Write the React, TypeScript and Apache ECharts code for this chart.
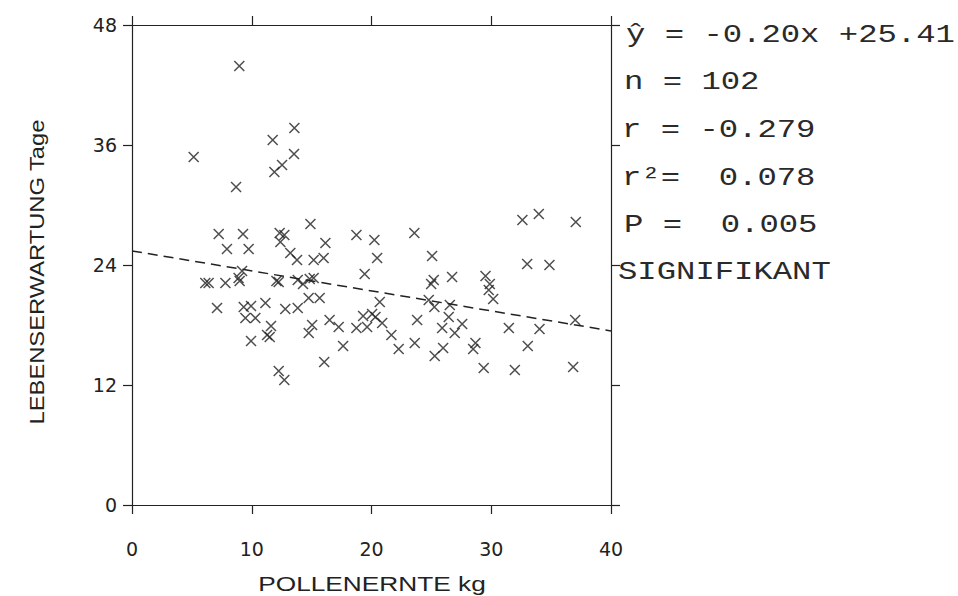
import React, { useEffect, useRef } from "react";
import * as echarts from "echarts";

// Pollenernte (kg) per colony
const pollenKg = [
  8.96, 13.56, 11.75, 5.15, 13.53, 12.53, 11.89, 8.69,
  7.24, 9.27, 12.33, 12.72, 12.39, 14.9, 16.15, 7.93, 9.74, 13.22, 13.78, 15.17, 16.0,
  9.19, 8.9, 8.99, 6.12, 6.4, 7.8, 12.06, 12.25, 13.84, 14.28, 14.84, 15.17,
  7.1, 9.33, 9.94, 11.14, 12.8, 13.84, 14.75, 15.67, 9.47, 10.3, 11.61, 11.28, 11.5,
  9.94, 15.04, 14.76, 16.5, 12.25, 12.72, 16.05,
  18.74, 20.24, 23.58, 20.47, 25.06, 19.43, 25.2, 24.98, 26.73, 20.69, 24.78, 25.25,
  26.54, 17.26, 19.3, 20.05, 20.33, 20.89, 18.74, 19.63, 21.66, 23.81, 26.45, 25.9,
  26.95, 27.57, 17.63, 22.27, 23.61, 25.98, 25.28,
  32.6, 33.97, 37.06, 33.0, 34.86, 29.52, 29.88, 29.79, 30.16, 31.47, 34.03, 37.01,
  28.68, 28.49, 33.05, 29.37, 31.97, 36.84,
];

// Lebenserwartung (Tage)
const lebensTage = [
  43.9, 37.7, 36.5, 34.8, 35.1, 34.0, 33.3, 31.8,
  27.1, 27.1, 27.2, 27.0, 26.3, 28.1, 26.2, 25.6, 25.6, 25.2, 24.5, 24.5, 24.7,
  23.4, 22.7, 22.4, 22.2, 22.2, 22.2, 22.4, 22.3, 22.5, 22.1, 22.6, 22.7,
  19.7, 19.8, 19.9, 20.2, 19.6, 19.7, 20.7, 20.7, 18.7, 18.7, 17.9, 17.0, 16.8,
  16.4, 18.0, 17.2, 18.5, 13.4, 12.5, 14.3,
  27.0, 26.5, 27.2, 24.7, 24.9, 23.1, 22.5, 22.1, 22.8, 20.3, 20.5, 19.8,
  20.0, 17.8, 18.9, 19.1, 18.8, 18.2, 17.7, 17.8, 17.0, 18.5, 18.8, 17.7,
  17.2, 18.1, 15.9, 15.6, 16.2, 15.7, 14.9,
  28.5, 29.1, 28.3, 24.1, 24.0, 22.9, 22.1, 21.5, 20.6, 17.7, 17.6, 18.5,
  16.2, 15.6, 15.9, 13.7, 13.5, 13.8,
];

// Regression line endpoints (ŷ = -0.20x + 25.41)
const regX = [0, 40];
const regY = [25.41, 17.41];

const xTicks = [0, 10, 20, 30, 40];
const yTicks = [0, 12, 24, 36, 48];

const statLines = [
  "ŷ = -0.20x +25.41",
  "n = 102",
  "r = -0.279",
  "r²=  0.078",
  "P =  0.005",
  "SIGNIFIKANT",
];

const xName = "POLLENERNTE kg";
const yName = "LEBENSERWARTUNG Tage";

export default function App() {
  const ref = useRef<HTMLDivElement>(null);

  useEffect(() => {
    if (!ref.current) return;
    const chart = echarts.init(ref.current, undefined, { renderer: "svg" });
    const ink = "#222";
    const axisLine = { show: true, onZero: false, lineStyle: { color: ink, width: 1.2 } };
    const axisTick = { show: true, inside: false, length: 9, lineStyle: { color: ink, width: 1.2 } };
    const labelFont = { fontFamily: "DejaVu Sans", fontSize: 19, color: ink };

    const scatterData = pollenKg.map((x, i) => [x, lebensTage[i]]);
    const regData = regX.map((x, i) => [x, regY[i]]);

    const statY = [36, 83, 131, 179, 226, 273];
    const statX = [626, 624, 622, 622, 624, 618];

    const graphics: any[] = statLines.map((t, i) => ({
      type: "text",
      x: statX[i],
      y: statY[i],
      scaleX: 1.29,
      silent: true,
      style: {
        text: t,
        fontFamily: "Liberation Mono",
        fontSize: 25,
        fill: "#2a2a2a",
        verticalAlign: "middle",
        align: "left",
      },
    }));
    graphics.push({
      type: "text",
      x: 372,
      y: 583,
      scaleX: 1.25,
      silent: true,
      style: {
        text: xName,
        fontFamily: "Liberation Sans",
        fontSize: 21,
        fill: ink,
        align: "center",
        verticalAlign: "middle",
      },
    });
    graphics.push({
      type: "text",
      x: 37,
      y: 272,
      rotation: Math.PI / 2,
      scaleX: 1.13,
      silent: true,
      style: {
        text: yName,
        fontFamily: "Liberation Sans",
        fontSize: 21,
        fill: ink,
        align: "center",
        verticalAlign: "middle",
      },
    });

    const xAxisBase = {
      type: "value",
      min: xTicks[0],
      max: xTicks[xTicks.length - 1],
      interval: xTicks[1] - xTicks[0],
      axisLine,
      axisTick,
      splitLine: { show: false },
    };
    const yAxisBase = {
      type: "value",
      min: yTicks[0],
      max: yTicks[yTicks.length - 1],
      interval: yTicks[1] - yTicks[0],
      axisLine,
      axisTick,
      splitLine: { show: false },
    };

    chart.setOption({
      animation: false,
      backgroundColor: "#fff",
      grid: { left: 132, top: 25, right: 347, bottom: 91, containLabel: false },
      xAxis: [
        { ...xAxisBase, position: "bottom", axisLabel: { ...labelFont, margin: 34 } },
        { ...xAxisBase, position: "top", axisLabel: { show: false } },
      ],
      yAxis: [
        { ...yAxisBase, position: "left", axisLabel: { ...labelFont, margin: 15 } },
        { ...yAxisBase, position: "right", axisLabel: { show: false } },
      ],
      graphic: graphics,
      series: [
        {
          type: "scatter",
          data: scatterData,
          symbol: "path://M0,0L10,10M10,0L0,10",
          symbolSize: 10,
          itemStyle: { color: "rgba(0,0,0,0)", borderColor: ink, borderWidth: 1.5 },
          silent: true,
          emphasis: { disabled: true },
        },
        {
          type: "line",
          data: regData,
          symbol: "none",
          silent: true,
          lineStyle: { color: ink, width: 1.5, type: [10, 6] },
          emphasis: { disabled: true },
        },
      ],
    });
    return () => chart.dispose();
  }, []);

  return (
    <div
      ref={ref}
      style={{ position: "fixed", left: 0, top: 0, width: 958, height: 596, background: "#fff" }}
    />
  );
}
